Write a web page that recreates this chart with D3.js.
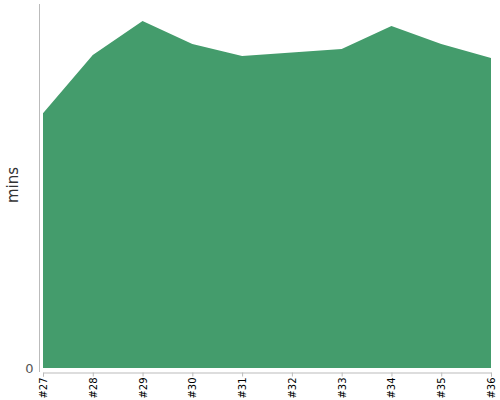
<!DOCTYPE html>
<html>
<head>
	<script src="https://d3js.org/d3.v7.min.js"></script>
	<style>
		body { margin: 0; font-family: "DejaVu Sans", sans-serif; }
	</style>
</head>
<body>
	<script type="text/javascript">

		// sprint labels and minutes per sprint
		var sprints = ["#27", "#28", "#29", "#30", "#31", "#32", "#33", "#34", "#35", "#36"];
		var mins = [14.0, 17.2, 19.07, 17.8, 17.14, 17.33, 17.53, 18.79, 17.8, 17.03];
		var yTicks = [0];

		var w = 500;
		var h = 400;

		var svg = d3.select("body")
				.append("svg")
				.attr("width", w)
				.attr("height", h);

		var xScale = d3.scalePoint()
				.domain(sprints)
				.range([43, 491]);

		var yScale = d3.scaleLinear()
				.domain([0, 20])
				.range([368, 4]);

		//the area itself
		var area = d3.area()
				.x(function(d, i) { return xScale(sprints[i]); })
				.y0(yScale(0))
				.y1(function(d) { return yScale(d); });

		svg.append("path")
			.datum(mins)
			.attr("d", area)
			.attr("fill", "#449c6c");

		//y axis, only the zero tick
		var yAxis = svg.append("g")
				.attr("transform", "translate(39.5,0)")
				.call(d3.axisLeft(yScale).tickValues(yTicks).tickSize(0).tickPadding(6));

		yAxis.select(".domain")
			.attr("d", "M0,4V372")
			.attr("stroke", "#bbb");
		yAxis.selectAll("text")
			.attr("font-size", "13px")
			.attr("font-family", "DejaVu Sans, sans-serif")
			.attr("fill", "#555");

		//x axis with rotated labels
		var xAxis = svg.append("g")
				.attr("transform", "translate(0,372.5)")
				.call(d3.axisBottom(xScale).tickSize(4).tickSizeOuter(4));

		xAxis.select(".domain").attr("stroke", "#bbb");
		xAxis.selectAll(".tick line").attr("stroke", "#bbb");
		xAxis.selectAll("text")
			.attr("transform", "rotate(-90)")
			.attr("text-anchor", "end")
			.attr("x", -5)
			.attr("y", 0)
			.attr("dy", "0.35em")
			.attr("font-size", "10px")
			.attr("font-family", "DejaVu Sans, sans-serif")
			.attr("fill", "#000");

		//axis title
		svg.append("text")
			.attr("transform", "translate(18,185) rotate(-90)")
			.attr("text-anchor", "middle")
			.attr("font-size", "15px")
			.attr("font-family", "DejaVu Sans, sans-serif")
			.attr("fill", "#333")
			.text("mins");

	</script>
</body>
</html>
